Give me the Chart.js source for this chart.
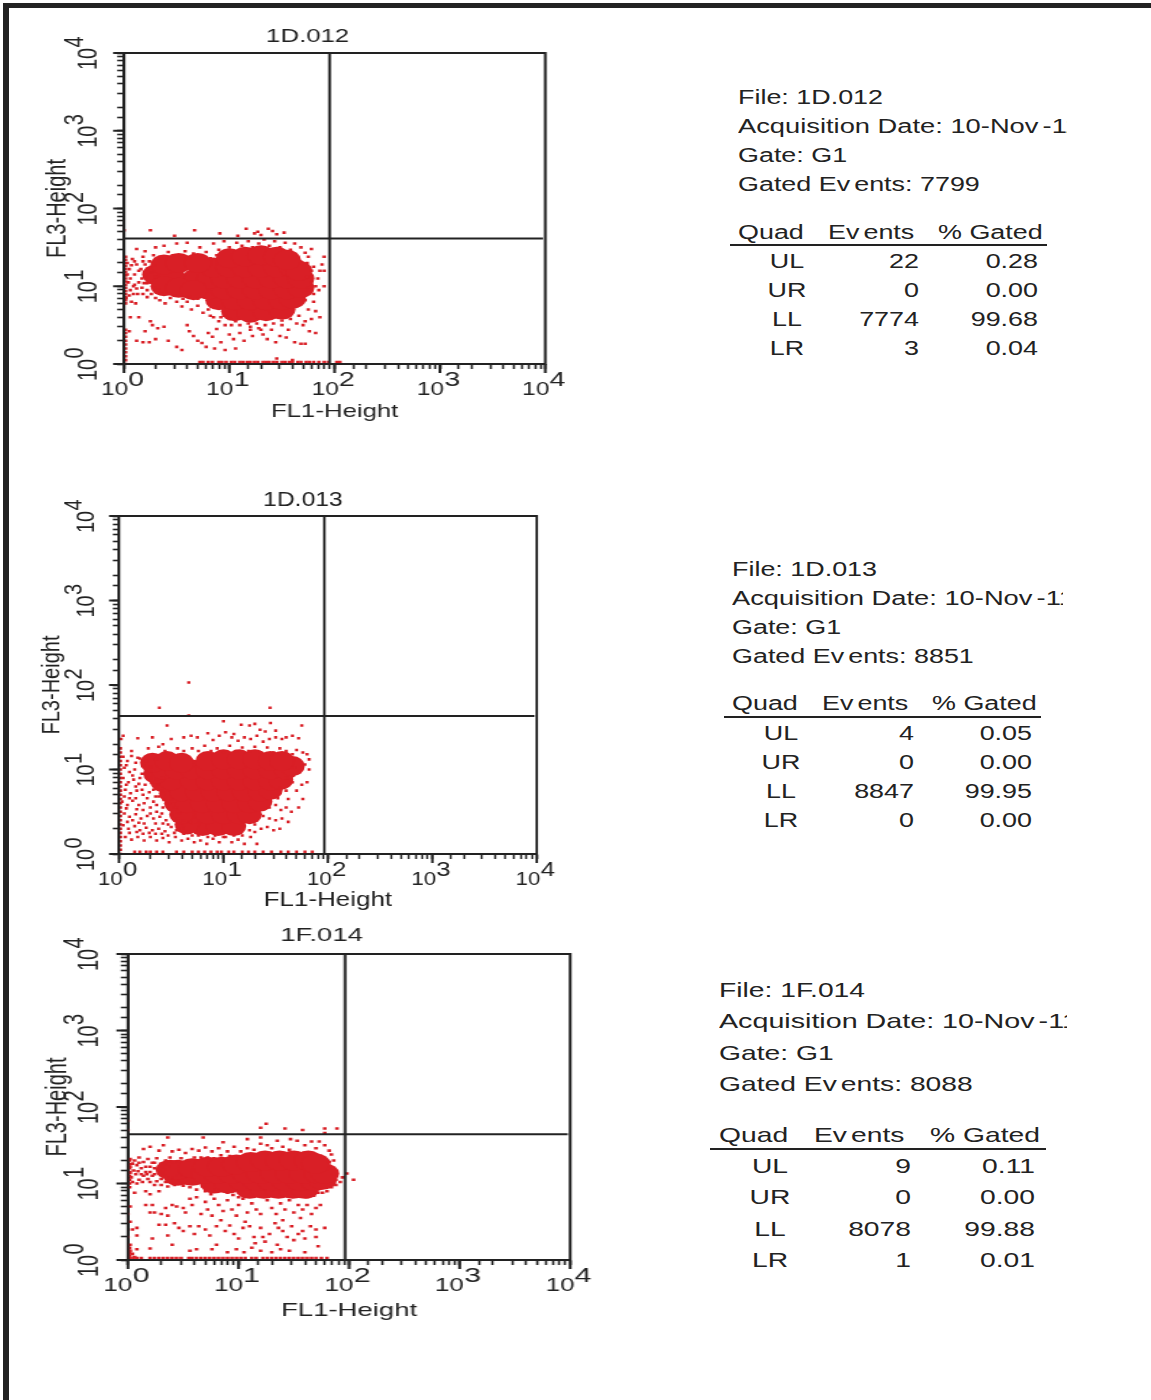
<!DOCTYPE html>
<html>
<head>
<meta charset="utf-8">
<title>FL1 / FL3 dot plots</title>
<script src="https://cdn.jsdelivr.net/npm/chart.js@4"></script>
<style>
  html, body { margin: 0; background: #fff; width: 1151px; height: 1400px; overflow: hidden; }
  .bar { position: absolute; background: #222; }
  canvas { position: absolute; transform-origin: 0 0; }
  .t { position: absolute; white-space: nowrap; color: #222; font-family: "Liberation Sans", Arial, sans-serif; height: 28px; line-height: 28px; }
  .clip { position: absolute; overflow: hidden; height: 28px; }
  .gap { letter-spacing: 3px; }
  .rule { position: absolute; height: 2px; background: #222; }
</style>
</head>
<body>
<div class="bar" style="left:3px;top:3px;width:1148px;height:5px"></div>
<div class="bar" style="left:3px;top:3px;width:6px;height:1397px"></div>
<div id="plots"></div>
<div id="stats"></div>
<script>
// all point lists are [FL1 decade, FL3 decade]
const decades = [0, 1, 2, 3, 4];
const sampleNames = ['1D.012', '1D.013', '1F.014'];
const acquisitionDate = '10-Nov-11';
const gateName = 'G1';
const gatedEvents = [7799, 8851, 8088];
const quadNames = ['UL', 'UR', 'LL', 'LR'];
const quadEvents1 = [22, 0, 7774, 3];
const quadEvents2 = [4, 0, 8847, 0];
const quadEvents3 = [9, 0, 8078, 1];
const quadGated1 = ['0.28', '0.00', '99.68', '0.04'];
const quadGated2 = ['0.05', '0.00', '99.95', '0.00'];
const quadGated3 = ['0.11', '0.00', '99.88', '0.01'];
const xCuts = [89.6, 92.5, 92];
const yCuts = [41, 43, 44];

const core1 = [[1.05,.68],[1.2,.66],[1.35,.68],[1.5,.7],[.9,.82],[1.05,.82],[1.2,.82],[1.35,.82],[1.5,.82],[1.6,.84],
  [.8,.96],[.95,.96],[1.1,.96],[1.25,.96],[1.4,.96],[1.55,.96],[1.68,.98],[.68,1.1],[.82,1.1],[.95,1.1],[1.1,1.1],[1.25,1.1],[1.4,1.1],[1.55,1.1],[1.68,1.1],
  [.85,1.24],[1,1.24],[1.15,1.24],[1.3,1.24],[1.45,1.24],[1.6,1.24],[1.66,1.2],[1,1.36],[1.15,1.38],[1.3,1.4],[1.45,1.38],[1.55,1.34],
  [.3,1.15],[.45,1.14],[.38,1],[.52,.98],[.66,.95],[.38,1.28],[.52,1.3],[.7,1.3]];
const loose1 = [[0,1.72],[.25,1.72],[.67,1.72],[.48,1.65],[.91,1.68],[1.16,1.74],[1.24,1.68],[1.27,1.7],[1.37,1.74],[1.41,1.71],[1.52,1.69],[1.08,1.65],[1.3,1.66],[1.45,1.67],
  [.12,1.48],[.2,1.45],[.3,1.5],[.38,1.52],[.42,1.44],[.5,1.55],[.58,1.45],[.6,1.56],[.66,1.42],[.72,1.5],[.78,1.44],[.85,1.55],[.9,1.47],[.95,1.58],[1,1.5],[1.07,1.56],[1.12,1.52],[1.18,1.58],[1.22,1.5],[1.28,1.55],[1.33,1.6],[1.38,1.52],[1.43,1.58],[1.48,1.5],[1.53,1.56],[1.58,1.47],[1.62,1.55],[1.68,1.5],[1.72,1.43],[1.75,1.38],[1.78,1.48],[.18,1.38],[.28,1.4],[.35,1.36],[.46,1.4],[.55,1.38],[.62,1.36],[.75,1.38],[.82,1.36],[.88,1.4],
  [.03,1.3],[.05,1.22],[.08,1.35],[.1,1.15],[.12,1.28],[.14,1.05],[.16,1.22],[.18,1.32],[.2,1.12],[.22,.95],[.04,1.05],[.06,.95],[.09,1],[.13,.9],[.17,.98],[.2,1.28],[.24,1.05],[.26,1.18],[.26,.9],[.02,.85],[.07,.8],[.11,.78],[.3,.85],[.34,.82],[.39,.78],[.44,.85],[.5,.8],[.55,.74],[.6,.8],[.64,.7],[.7,.75],[.75,.66],[.8,.7],[.85,.6],[.9,.55],[.95,.62],[1,.58],
  [.03,1.15],[.07,1.27],[.1,1.32],[.14,1.2],[.17,1.1],[.22,1.22],[.24,1.32],[.28,1.27],[.3,1.12],[.06,1.1],[.1,1.02],[.19,1.04],[.22,1.04],[.28,.98],[.32,.95],[.12,.97],[.05,.88],[.09,.9],[.18,.9],[.22,.86],[.35,.9],[.42,.9],[.48,.88],[.56,.84],[.62,.86],[.7,.84],
  [.82,.62],[.92,.6],[1.02,.5],[1.1,.5],[1.18,.52],[1.26,.52],[1.34,.5],[1.42,.52],[1.5,.56],[1.58,.58],[1.66,.62],[.96,.5],[1.06,.55],[1.2,.48],[1.3,.44],
  [.06,.6],[.05,.42],[.14,.6],[.2,.42],[.25,.55],[.27,.5],[.32,.46],[.38,.48],[.12,.3],[.18,.28],[.24,.28],[.3,.32],[.42,.3],[.5,.22],[.55,.18],[.6,.5],[.62,.42],[.66,.36],[.7,.3],[.74,.27],[.78,.22],[.8,.4],[.84,.35],[.88,.45],[.86,.2],[.92,.28],[.96,.18],[1,.38],[1.04,.32],[1.06,.2],[1.1,.4],[1.14,.3],[1.2,.44],[1.22,.36],[1.28,.46],[1.32,.38],[1.36,.32],[1.4,.44],[1.44,.28],[1.48,.36],[1.5,.5],[1.54,.34],[1.56,.44],[1.62,.28],[1.68,.26],[1.72,.26],[1.7,.5],[1.76,.42],[1.64,.52],[1.72,.55],[1.78,.58],[1.82,.68],[1.86,.6],[1.82,.4],[1.75,.7],[1.8,.8],[1.72,.82],
  [1.74,1.3],[1.78,1.2],[1.8,1.25],[1.84,1.1],[1.86,1.2],[1.88,1.28],[1.78,1.05],[1.82,1],[1.85,.95],[1.9,1],[1.76,.95],[1.8,.9],[1.74,1.12],[1.9,1.38],[1.9,1.2],[1.45,.07],[1.6,.05]];
const bottomEdge1 = [.72,.75,.8,.84,.9,.93,.97,1.02,1.05,1.1,1.13,1.17,1.2,1.24,1.27,1.32,1.35,1.38,1.42,1.45,1.5,1.53,1.57,1.6,1.65,1.68,1.73,1.76,1.8,1.85,1.9,1.94,2.02,2.05];
const leftEdge1 = [0,.05,.1,.15,.2,.25,.3,.35,.4,.44,.78,.82,.86,.9,.94,.98,1.02,1.06,1.1,1.14,1.18,1.22,1.26,1.3,1.34,1.38];

const core2 = [[.8,.33],[.95,.33],[1.1,.33],[.65,.35],[.7,.47],[.6,.47],[.85,.47],[1,.47],[1.15,.47],[1.25,.47],[.55,.6],[.65,.6],[.8,.6],[.95,.6],[1.1,.6],[1.25,.6],[1.35,.62],
  [.5,.72],[.6,.74],[.75,.74],[.9,.74],[1.05,.74],[1.2,.74],[1.35,.74],[1.45,.76],[.42,.85],[.5,.87],[.7,.87],[.85,.87],[1,.87],[1.15,.87],[1.3,.87],[1.45,.87],[1.55,.88],
  [.35,.95],[.42,1],[.55,1],[.7,1],[.85,1],[1,1],[1.15,1],[1.3,1],[1.45,1],[1.6,1],[1.66,1.04],[.32,1.08],[.46,1.1],[.6,1.08],[.85,1.1],[1,1.12],[1.15,1.12],[1.3,1.12],[1.45,1.1],[1.56,1.1]];
const loose2 = [[.668,2.03],[.386,1.73],[1.446,1.73],[.668,1.64],
  [.46,1.52],[1,1.57],[1.17,1.53],[1.25,1.52],[1.3,1.54],[1.45,1.55],[1.5,1.46],[1.75,1.52],[1.1,1.42],[1.35,1.47],[1.4,1.45],[.69,1.4],[.75,1.38],[.85,1.43],[.9,1.35],[.96,1.4],[1.02,1.44],[1.08,1.38],[1.14,1.34],[1.2,1.38],[1.26,1.36],[1.32,1.4],[1.38,1.33],[1.44,1.36],[1.5,1.38],[1.56,1.36],[1.6,1.38],[1.66,1.4],[1.72,1.37],[.32,1.38],[.42,1.3],[.5,1.36],[.62,1.38],[.04,1.4],[.02,1.36],[.18,1.37],[.12,1.22],[.28,1.25],[.38,1.27],[.44,1.22],[.56,1.25],[.62,1.22],[.7,1.25],[.76,1.22],[.82,1.28],[.88,1.22],[.94,1.25],[1,1.2],[1.06,1.28],[1.12,1.22],[1.18,1.26],[1.24,1.22],[1.3,1.27],[1.36,1.2],[1.42,1.26],[1.48,1.2],[1.54,1.25],[1.6,1.22],[1.66,1.18],[1.7,1.23],[1.76,1.2],[1.8,1.18],
  [.04,1.15],[.08,1.1],[.12,1.16],[.16,1.08],[.2,1.13],[.26,1.1],[.3,1.03],[.35,1.12],[.05,1.02],[.1,.97],[.15,1],[.22,.95],[.28,.92],[.33,.98],[.04,.9],[.09,.85],[.14,.88],[.19,.83],[.25,.82],[.31,.84],[.36,.88],[.42,.9],[.06,.76],[.11,.72],[.17,.75],[.23,.7],[.29,.73],[.35,.68],[.4,.75],[.45,.7],[.03,.62],[.08,.58],[.13,.63],[.19,.58],[.24,.6],[.3,.55],[.36,.58],[.42,.55],[.48,.6],[.54,.55],[.05,.48],[.1,.44],[.16,.47],[.21,.42],[.27,.45],[.33,.42],[.39,.44],[.45,.4],[.5,.46],[.56,.42],[.62,.4],[.04,.34],[.09,.3],[.15,.33],[.2,.28],[.26,.31],[.32,.28],[.38,.3],[.44,.27],[.5,.32],[.55,.28],[.6,.3],[.66,.26],[.06,.2],[.12,.17],[.18,.2],[.24,.16],[.3,.2],[.36,.16],[.42,.19],[.48,.14],[.54,.2],[.6,.16],[.66,.18],[.72,.14],[.78,.16],[.84,.12],[.9,.18],[.96,.14],[1.02,.2],[1.08,.14],[1.14,.17],[1.2,.12],[1.26,.2],[1.32,.12],
  [.07,1.05],[.18,1.14],[.24,1.05],[.13,.93],[.2,.9],[.3,.9],[.38,.82],[.07,.82],[.16,.8],[.22,.76],[.33,.76],[.38,.68],[.43,.64],[.05,.68],[.1,.66],[.16,.66],[.27,.66],[.33,.62],[.5,.65],[.07,.54],[.17,.53],[.23,.52],[.3,.48],[.36,.5],[.41,.48],[.53,.5],[.58,.48],[.08,.38],[.13,.4],[.19,.37],[.24,.36],[.35,.36],[.42,.36],[.47,.35],[.58,.36],[.62,.34],[.68,.38],[.1,.25],[.17,.26],[.23,.24],[.29,.25],[.35,.24],[.41,.24],[.47,.22],[.53,.25],[.62,.24],[.7,.22],[.76,.22],[.85,.2],[.92,.22],[1,.2],[1.1,.22],[1.18,.22],[1.25,.28],[1.3,.26],
  [1.6,.9],[1.68,1.02],[1.72,.98],[1.78,1.06],[1.66,.85],[1.6,.75],[1.54,.78],[1.7,.75],[1.75,.82],[1.62,.65],[1.52,.66],[1.44,.55],[1.5,.58],[1.55,.52],[1.6,.55],[1.65,.5],[1.38,.45],[1.44,.42],[1.5,.4],[1.56,.42],[1.62,.38],[1.3,.35],[1.36,.3],[1.42,.32],[1.48,.28],[1.54,.3],[1.8,.85],[1.76,.65],[1.72,.55],[1.82,1],[1.82,1.12]];
const bottomEdge2 = [.15,.2,.26,.3,.36,.42,.55,.62,.7,.76,.82,.88,.94,.98,1.05,1.1,1.18,1.24,1.3,1.38,1.46,1.55,1.62,1.7,1.78,1.85];
const leftEdge2 = [0,.05,.1,.15,.2,.25,.3,.35,.4,.45,.5,.55,.6,.65,.7,.75,.8,.85,.9,.95,1,1.05,1.1,1.15,1.2,1.25];

const core3 = [[1.1,.93],[1.23,.93],[1.36,.93],[1.49,.93],[1.6,.93],[.78,1],[.91,1],[1.04,1.03],[1.17,1.03],[1.3,1.03],[1.43,1.03],[1.56,1.03],[1.69,1.03],[1.76,1.05],
  [.45,1.1],[.58,1.1],[.38,1.18],[.45,1.18],[.58,1.2],[.7,1.13],[.81,1.13],[.94,1.13],[1.07,1.13],[1.2,1.13],[1.33,1.13],[1.46,1.13],[1.59,1.13],[1.72,1.13],[1.78,1.13],
  [.72,1.22],[.85,1.22],[.98,1.25],[1.11,1.28],[1.24,1.3],[1.37,1.3],[1.5,1.3],[1.63,1.3],[1.7,1.26]];
const loose3 = [[0,1.82],[0,1.7],[1.2,1.73],[1.25,1.78],[1.42,1.72],[1.58,1.7],[1.78,1.72],[1.89,1.72],[1.78,1.66],[1.98,1.13],[2.04,1.05],
  [.36,1.6],[.68,1.6],[.86,1.54],[1.08,1.58],[1.2,1.6],[1.2,1.52],[1.26,1.5],[1.35,1.56],[1.47,1.58],[1.53,1.56],[1.6,1.5],[1.66,1.55],[1.73,1.55],[1.78,1.5],[1.82,1.43],[1.84,1.38],[.14,1.45],[.2,1.48],[.28,1.43],[.32,1.5],[.4,1.42],[.46,1.44],[.52,1.4],[.58,1.45],[.64,1.43],[.7,1.47],[.76,1.42],[.82,1.46],[.9,1.42],[.96,1.48],[1.02,1.42],[1.08,1.46],[1.14,1.44],[1.3,1.46],[1.4,1.48],[1.46,1.44],[1.7,1.46],
  [.02,1.32],[.06,1.3],[.1,1.34],[.14,1.28],[.18,1.32],[.22,1.27],[.26,1.33],[.3,1.26],[.34,1.3],[.38,1.34],[.02,1.22],[.05,1.17],[.08,1.24],[.12,1.2],[.16,1.22],[.2,1.15],[.24,1.2],[.28,1.14],[.32,1.18],[.36,1.22],[.03,1.08],[.07,1.12],[.1,1.05],[.14,1.1],[.18,1.06],[.22,1.1],[.26,1.03],[.3,1.06],[.34,1.02],[.38,1.08],[.42,.98],[.46,1.1],[.5,.97],[.42,1.28],[.48,1.33],[.54,1.3],[.6,1.34],[.66,1.34],
  [.04,1.26],[.1,1.27],[.16,1.15],[.2,1.22],[.24,1.27],[.28,1.22],[.02,1.14],[.09,1.16],[.12,1.12],[.17,1.12],[.24,1.12],[.3,1.12],[.04,1.02],[.08,1],[.13,1.02],[.2,1.02],[.24,.98],[.3,.98],[.36,.96],[.56,.95],[.62,.92],[.68,.96],[.72,1.34],[.78,1.33],[.84,1.37],[.92,1.36],
  [.06,.88],[.16,.9],[.2,.86],[.28,.9],[.02,.7],[0,.6],[.02,.5],[.04,.4],[0,.3],[.02,.2],[.08,.42],[.08,.32],[.22,.72],[.16,.72],[.2,.62],[.24,.62],[.3,.6],[.34,.68],[.4,.72],[.44,.7],[.36,.58],[.5,.68],[.52,.62],[.56,.8],[.58,.72],[.62,.82],[.66,.6],[.7,.76],[.72,.66],[.76,.58],[.78,.8],[.82,.72],[.86,.64],[.9,.78],[.94,.66],[.98,.58],[1,.72],[1.04,.8],[1.08,.62],[1.12,.74],[1.16,.66],[1.2,.6],[1.26,.78],[1.3,.68],[1.34,.6],[1.38,.74],[1.42,.66],[1.46,.78],[1.5,.62],[1.54,.72],[1.58,.66],[1.62,.72],[1.66,.6],[1.7,.68],[1.74,.72],[1.56,.55],[1.4,.52],
  [.28,.46],[.34,.46],[.42,.48],[.46,.42],[.5,.38],[.56,.44],[.6,.34],[.64,.44],[.7,.4],[.74,.32],[.8,.44],[.84,.52],[.88,.38],[.92,.45],[.96,.34],[1,.28],[1.04,.42],[1.06,.5],[1.1,.44],[1.14,.3],[1.15,.22],[1.12,.16],[1.2,.42],[1.24,.24],[1.22,.3],[1.28,.34],[1.33,.48],[1.36,.42],[1.4,.38],[1.44,.3],[1.48,.44],[1.5,.26],[1.54,.34],[1.58,.38],[1.6,.28],[1.65,.44],[1.7,.3],[1.72,.18],[1.78,.42],[.2,.15],[.22,.28],[.36,.32],[.4,.2],[.56,.12],[.62,.14],[.76,.14],[.8,.2],[.9,.1],[.98,.14],[1.05,.1],[1.3,.1],[1.38,.14],[1.46,.12],[1.6,.1],[1.35,.2],[1.2,.12],[1.7,.4],[.02,.12],[.04,.08],[.06,.04],[.08,.14],
  [1.82,1.28],[1.84,1.2],[1.86,1.12],[1.88,1.05],[1.92,1.02],[1.94,1.08],[1.88,.98],[1.84,.95],[1.8,.9],[1.76,.88],[1.86,1.3],[.95,.85],[1,.82],[.9,.88],[.85,.9],[.8,.92],[.7,.9],[.75,.86],[1.72,.88],[1.68,.84],[1.62,.82]];
const bottomEdge3 = [.02,.05,.08,.12,.2,.24,.28,.32,.36,.4,.44,.48,.55,.58,.62,.66,.7,.74,.78,.82,.86,.9,.94,.98,1.02,1.06,1.12,1.16,1.22,1.26,1.3,1.34,1.38,1.42,1.46,1.5,1.54,1.58,1.62,1.66,1.7,1.75,1.8];
const leftEdge3 = [0,.03,.06,.09,.12,.16,.95,1,1.05,1.1,1.15,1.2,1.25,1.3];

const RED = '#d91f26';
const INK = '#222';
const FONT = 'Liberation Sans';

function toEvents(list) {
  return list.map(p => ({ x: 10 ** p[0], y: 10 ** p[1] }));
}

// frame around the plot, the chart has no top/right border of its own
const frameBox = {
  id: 'frameBox',
  afterDatasetsDraw(chart) {
    const a = chart.chartArea;
    const ctx = chart.ctx;
    ctx.save();
    ctx.strokeStyle = INK;
    ctx.lineWidth = 2;
    ctx.strokeRect(a.left, a.top, a.width, a.height);
    ctx.restore();
  }
};

// long ticks at the decades and the raised exponent next to each "10"
const decadeMarks = {
  id: 'decadeMarks',
  afterDraw(chart) {
    const { ctx, chartArea: a, scales } = chart;
    ctx.save();
    ctx.strokeStyle = INK;
    ctx.fillStyle = INK;
    ctx.lineWidth = 2;
    ctx.textAlign = 'center';
    ctx.textBaseline = 'middle';
    decades.forEach(n => {
      const px = scales.x.getPixelForValue(10 ** n);
      const py = scales.y.getPixelForValue(10 ** n);
      ctx.beginPath();
      ctx.moveTo(px, a.bottom);
      ctx.lineTo(px, a.bottom + 9);
      ctx.moveTo(a.left, py);
      ctx.lineTo(a.left - 8, py);
      ctx.stroke();
      ctx.font = '21px "' + FONT + '"';
      ctx.fillText(String(n), px + 9, a.bottom + 16);
      ctx.font = '20px "' + FONT + '"';
      ctx.save();
      ctx.translate(a.left - 36, py - 11);
      ctx.rotate(-Math.PI / 2);
      ctx.fillText(String(n), 0, 0);
      ctx.restore();
    });
    ctx.restore();
  }
};

function logAxis(titleText, titleSize, tickSize, fixSize, tickOpts) {
  return {
    type: 'logarithmic',
    min: 1,
    max: 10000,
    afterFit: fixSize,
    border: { color: INK, width: 2 },
    grid: { drawOnChartArea: false, tickLength: 5, tickWidth: 1.6, tickColor: INK },
    title: { display: true, text: titleText, color: INK, padding: 0, font: { family: FONT, size: titleSize } },
    ticks: Object.assign({
      autoSkip: false,
      color: INK,
      font: { family: FONT, size: tickSize },
      callback: v => (decades.includes(Math.round(Math.log10(v) * 1000) / 1000) ? '10' : '')
    }, tickOpts)
  };
}

function drawPlot(i, box, core, loose, bottomEdge, leftEdge) {
  const k = (box.plotRight - box.plotLeft) / (box.plotBottom - box.plotTop);
  const canvas = document.createElement('canvas');
  canvas.width = (box.right - box.left) / k;
  canvas.height = box.bottom - box.top;
  canvas.style.left = box.left + 'px';
  canvas.style.top = box.top + 'px';
  canvas.style.transform = 'scaleX(' + k + ')';
  document.getElementById('plots').appendChild(canvas);

  const xCut = xCuts[i];
  const yCut = yCuts[i];
  const cutLine = data => ({ data, showLine: true, borderColor: INK, borderWidth: 2, pointRadius: 0, order: 0 });
  const dots = data => ({ data, pointStyle: 'rect', pointRadius: 1.8, backgroundColor: RED, borderWidth: 0, order: 1 });

  return new Chart(canvas, {
    type: 'scatter',
    data: {
      datasets: [
        cutLine([{ x: xCut, y: 1 }, { x: xCut, y: 10000 }]),
        cutLine([{ x: 1, y: yCut }, { x: 9500, y: yCut }]),
        { data: toEvents(core), pointStyle: 'circle', pointRadius: 10, backgroundColor: RED, borderWidth: 0, order: 2 },
        dots(toEvents(loose)),
        dots(toEvents(bottomEdge.map(a => [a, 0.025]))),
        dots(toEvents(leftEdge.map(b => [0.015, b])))
      ]
    },
    plugins: [frameBox, decadeMarks],
    options: {
      responsive: false,
      animation: false,
      devicePixelRatio: 1,
      layout: { autoPadding: false },
      plugins: {
        legend: { display: false },
        tooltip: { enabled: false },
        title: {
          display: true,
          text: sampleNames[i],
          color: INK,
          font: { family: FONT, size: box.titleSize, weight: 'normal', lineHeight: 1.2 },
          padding: { top: 0, bottom: box.plotTop - box.top - box.titleSize * 1.2 }
        }
      },
      scales: {
        x: logAxis('FL1-Height', box.xTitleSize, 18, s => { s.height = box.bottom - box.plotBottom; }, { maxRotation: 0, minRotation: 0, padding: 10, labelOffset: -7 }),
        y: logAxis('FL3-Height', 20, 20, s => { s.width = (box.plotLeft - box.left) / k; }, { minRotation: 90, maxRotation: 90, crossAlign: 'center', padding: 10, labelOffset: 6 }),
        // empty axis, only keeps the plot clear of the canvas' right part so the title stays centred on the canvas
        spacer: {
          type: 'linear',
          position: 'right',
          afterFit: s => { s.width = (box.right - box.plotRight) / k; },
          border: { display: false },
          grid: { display: false },
          ticks: { display: false }
        }
      }
    }
  });
}

drawPlot(0, { left: 41, right: 575, top: 25, bottom: 423, plotLeft: 124, plotRight: 546, plotTop: 53, plotBottom: 364, titleSize: 19, xTitleSize: 19 }, core1, loose1, bottomEdge1, leftEdge1);
drawPlot(1, { left: 37, right: 569, top: 488, bottom: 913, plotLeft: 119, plotRight: 537, plotTop: 516, plotBottom: 854, titleSize: 20, xTitleSize: 21 }, core2, loose2, bottomEdge2, leftEdge2);
drawPlot(2, { left: 40, right: 604, top: 924, bottom: 1322, plotLeft: 128, plotRight: 571, plotTop: 954, plotBottom: 1260, titleSize: 19, xTitleSize: 19 }, core3, loose3, bottomEdge3, leftEdge3);

// the text block beside each plot
function addText(text, opts) {
  const el = document.createElement('div');
  el.className = 't';
  el.innerHTML = text.replace(/v/g, '<span class="gap">v</span>');
  el.style.fontSize = opts.size + 'px';
  el.style.top = (opts.y - 13.5) + 'px';
  el.style.width = '200px';
  el.style.transform = 'scaleX(' + opts.k + ')';
  if (opts.align === 'right') {
    el.style.left = (opts.x - 200) + 'px';
    el.style.textAlign = 'right';
    el.style.transformOrigin = '100% 50%';
  } else if (opts.align === 'center') {
    el.style.left = (opts.x - 100) + 'px';
    el.style.textAlign = 'center';
  } else {
    el.style.left = opts.x + 'px';
    el.style.transformOrigin = '0 50%';
  }
  (opts.parent || document.getElementById('stats')).appendChild(el);
}

function drawStats(i, pos, events, gated) {
  const base = { size: pos.size, k: pos.k };
  addText('File: ' + sampleNames[i], { ...base, x: pos.x, y: pos.rows[0] });
  // date runs past the edge of the original panel and is cut off
  const clip = document.createElement('div');
  clip.className = 'clip';
  clip.style.left = pos.x + 'px';
  clip.style.top = (pos.rows[1] - 13.5) + 'px';
  clip.style.width = (pos.clipAt - pos.x) + 'px';
  document.getElementById('stats').appendChild(clip);
  addText('Acquisition Date: ' + acquisitionDate, { size: pos.size, k: pos.k + 0.02, x: 0, y: 13.5, parent: clip });
  addText('Gate: ' + gateName, { ...base, x: pos.x, y: pos.rows[2] });
  addText('Gated Events: ' + gatedEvents[i], { ...base, x: pos.x, y: pos.rows[3] });
  addText('Quad', { ...base, x: pos.x, y: pos.rows[4] });
  addText('Events', { ...base, x: pos.eventsX, y: pos.rows[4] });
  addText('% Gated', { ...base, x: pos.gatedX, y: pos.rows[4] });
  const rule = document.createElement('div');
  rule.className = 'rule';
  rule.style.left = pos.ruleFrom + 'px';
  rule.style.width = (pos.ruleTo - pos.ruleFrom) + 'px';
  rule.style.top = pos.ruleY + 'px';
  document.getElementById('stats').appendChild(rule);
  quadNames.forEach((q, r) => {
    const y = pos.rows[5 + r];
    addText(q, { ...base, x: pos.quadX, y, align: 'center' });
    addText(String(events[r]), { ...base, x: pos.eventsEnd, y, align: 'right' });
    addText(gated[r], { ...base, x: pos.gatedEnd, y, align: 'right' });
  });
}

drawStats(0, { x: 738, size: 20, k: 1.345, clipAt: 1067, rows: [96, 125, 154, 183, 231, 260, 289, 318, 347], ruleFrom: 730, ruleTo: 1047, ruleY: 244, quadX: 787, eventsX: 828, eventsEnd: 919, gatedX: 938, gatedEnd: 1038 }, quadEvents1, quadGated1);
drawStats(1, { x: 732, size: 20, k: 1.345, clipAt: 1063, rows: [568, 597, 626, 655, 702, 732, 761, 790, 819], ruleFrom: 724, ruleTo: 1041, ruleY: 716, quadX: 781, eventsX: 822, eventsEnd: 914, gatedX: 932, gatedEnd: 1032 }, quadEvents2, quadGated2);
drawStats(2, { x: 719, size: 21, k: 1.345, clipAt: 1067, rows: [989, 1020, 1052, 1083, 1134, 1165, 1196, 1228, 1259], ruleFrom: 710, ruleTo: 1046, ruleY: 1148, quadX: 770, eventsX: 814, eventsEnd: 911, gatedX: 930, gatedEnd: 1035 }, quadEvents3, quadGated3);
</script>
</body>
</html>
